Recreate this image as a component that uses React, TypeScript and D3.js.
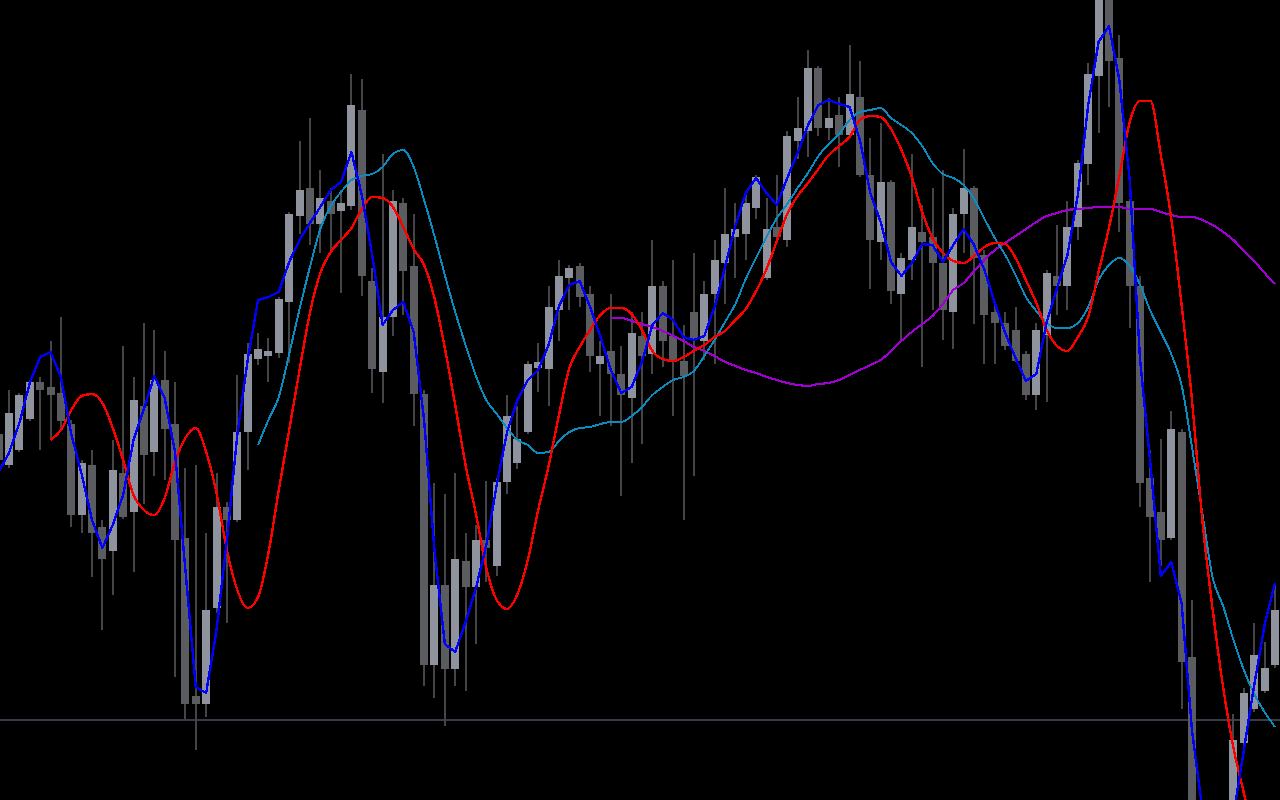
import React from "react";
import * as d3 from "d3";

// Bars are indexed from -1 (partly visible) to 122.
const FIRST_INDEX = -1;

const opens = [366,335,350,381,418,413,407,376,285,335,273,249,327,288,394,348,420,376,262,104,96,192,293,280,368,441,444,447,498,584,612,576,599,589,594,690,519,428,483,597,534,406,135,215,131,239,213,260,234,318,337,368,432,431,490,522,534,506,436,449,426,402,464,446,514,464,439,488,459,506,537,563,566,592,522,573,560,659,669,732,672,685,665,703,625,558,618,506,540,568,563,537,488,586,612,545,488,477,470,446,405,465,524,514,573,636,724,805,742,599,514,322,288,262,368,143,-25,-70,-90,-10,57,91,109,135];
const highs = [370,410,407,419,423,459,483,380,340,350,280,360,454,423,477,470,449,418,332,335,267,327,298,425,457,467,462,503,588,659,682,630,612,610,726,721,532,646,610,602,586,410,317,306,327,267,275,319,322,405,394,439,457,514,540,535,537,514,459,506,454,488,488,560,519,540,475,547,519,560,612,597,605,625,602,625,669,703,750,734,702,703,755,739,662,677,620,547,646,595,612,630,592,651,614,550,494,488,493,449,477,530,575,599,640,737,820,815,765,601,524,350,361,389,371,200,-5,-40,-30,86,112,177,158,214];
const lows = [335,332,348,379,350,360,370,273,267,223,170,205,281,228,296,324,320,123,81,50,83,187,177,278,330,435,418,442,437,566,555,547,547,507,590,504,407,397,464,485,374,114,102,74,114,109,156,218,224,306,331,366,408,394,459,490,493,428,384,374,304,337,356,426,433,384,280,324,440,436,496,522,540,581,520,560,553,641,643,664,660,633,663,623,511,540,496,460,520,433,490,460,451,547,476,436,436,450,438,400,390,398,485,490,560,615,667,693,568,472,293,218,234,260,91,-30,-90,-120,-100,-20,50,88,107,132];
const closes = [340,387,405,418,410,405,379,285,337,267,241,330,283,400,345,420,371,260,96,96,190,293,280,368,446,451,449,501,586,610,576,602,586,597,695,524,431,483,599,529,406,135,215,131,241,213,260,252,318,384,361,436,438,493,524,532,503,444,444,426,405,467,444,514,459,440,424,460,506,540,566,571,597,623,571,563,664,672,732,672,682,665,706,625,560,618,509,542,573,558,537,490,586,612,542,485,477,454,439,405,470,527,514,573,637,726,810,739,597,514,317,283,260,371,138,-20,-70,-90,-40,60,107,145,132,190];

// Fast moving average (blue), starts at bar -1
const blueStart = -1;
const blueValues = [328,347,377,417,443,448,423,366,326,280,252,275,305,360,391,424,402,348,230,113,107,170,260,365,440,500,503,508,538,560,577,593,610,618,648,605,545,475,490,498,468,380,250,156,148,178,212,255,315,368,400,420,430,455,494,515,519,493,463,430,407,413,438,475,487,480,463,460,464,493,533,574,607,622,607,595,622,647,675,695,700,696,693,660,607,578,538,524,537,556,555,538,555,571,555,530,497,467,442,419,426,478,512,545,605,695,758,774,720,620,440,335,224,238,197,70,-10,-40,-30,-15,50,115,175,217];

// Centred oscillating average (red), starts at bar 4
const redStart = 4;
const redValues = [360,370,390,404,406,397,372,340,305,290,285,302,338,362,372,348,307,250,210,192,203,247,310,370,430,487,527,548,560,572,591,603,602,593,573,551,535,502,452,395,335,286,232,200,191,206,240,290,334,385,432,453,470,485,492,492,486,470,449,441,439,443,449,455,463,469,480,491,509,531,559,586,604,617,631,645,654,663,680,684,683,671,650,623,588,562,547,539,537,544,553,557,556,542,520,497,470,454,449,463,483,528,572,624,678,699,699,645,582,495,400,280,190,113,52,7,-40];

// Medium moving average (teal), starts at bar 24
const tealStart = 24;
const tealValues = [355,380,403,446,491,533,571,594,608,620,624,626,633,646,650,633,600,564,525,488,455,424,400,386,372,360,355,347,348,359,368,372,373,376,378,378,384,393,405,413,420,423,429,444,460,478,496,521,542,563,582,596,612,627,644,656,666,680,688,690,692,682,675,667,654,637,626,622,615,601,581,562,545,525,503,489,477,472,472,477,493,520,535,542,534,515,489,468,446,415,353,287,222,194,160,130,106,88,73];

// Slow moving average (purple), starts at bar 58
const purpleStart = 58;
const purpleValues = [482,482,479,476,473,469,464,459,453,449,444,438,434,430,427,423,420,417,415,414,416,417,420,425,430,435,440,449,459,468,476,484,496,510,517,529,540,550,557,564,571,578,584,587,590,591,592,593,593,593,591,591,591,588,585,583,583,580,575,568,560,549,539,527,516];

// Horizontal reference level
const levelPrice = 80;

const W = 1280;
const H = 800;
const LAST_INDEX = FIRST_INDEX + opens.length - 1;
const STEP = 10.377;

const BULL = "#8f939e";
const BEAR = "#5b5c60";
const WICK = "#454547";

export default function App() {
  const x = d3
    .scaleLinear()
    .domain([FIRST_INDEX, LAST_INDEX])
    .range([9 + FIRST_INDEX * STEP, 9 + LAST_INDEX * STEP]);
  const y = d3.scaleLinear().domain([0, 800]).range([H, 0]);

  const candles = opens.map((o, k) => ({
    i: FIRST_INDEX + k,
    o,
    h: highs[k],
    l: lows[k],
    c: closes[k],
  }));

  const mkLine = (start: number, vals: number[], curve: d3.CurveFactory) =>
    d3
      .line<number>()
      .x((_, k) => x(start + k))
      .y((v) => y(v))
      .curve(curve)(vals) || "";

  const lines = [
    { d: mkLine(purpleStart, purpleValues, d3.curveMonotoneX), color: "#a000d2", w: 2.2 },
    { d: mkLine(tealStart, tealValues, d3.curveMonotoneX), color: "#0a8cc0", w: 2 },
    { d: mkLine(redStart, redValues, d3.curveMonotoneX), color: "#ff0000", w: 2.4 },
    { d: mkLine(blueStart, blueValues, d3.curveLinear), color: "#0000ff", w: 2.4 },
  ];

  return (
    <svg
      width={W}
      height={H}
      style={{ position: "fixed", left: 0, top: 0, background: "#000", display: "block" }}
    >
      <rect x={0} y={0} width={W} height={H} fill="#000" />
      <line
        x1={0}
        x2={W}
        y1={Math.round(y(levelPrice))}
        y2={Math.round(y(levelPrice))}
        stroke="#3a3a4a"
        strokeWidth={2}
        shapeRendering="crispEdges"
      />
      <g shapeRendering="crispEdges">
        {candles.map((cd) => {
          const cx = Math.round(x(cd.i));
          const top = y(Math.max(cd.o, cd.c));
          const bot = y(Math.min(cd.o, cd.c));
          const bull = cd.c >= cd.o;
          return (
            <g key={cd.i}>
              <rect
                x={cx - 1}
                y={y(cd.h)}
                width={2}
                height={Math.max(1, y(cd.l) - y(cd.h))}
                fill={WICK}
              />
              <rect
                x={cx - 4}
                y={top}
                width={8}
                height={Math.max(2, bot - top)}
                fill={bull ? BULL : BEAR}
              />
            </g>
          );
        })}
      </g>
      {lines.map((ln, k) => (
        <path
          key={k}
          d={ln.d}
          fill="none"
          stroke={ln.color}
          strokeWidth={ln.w}
          shapeRendering="crispEdges"
          strokeLinejoin="round"
        />
      ))}
    </svg>
  );
}
